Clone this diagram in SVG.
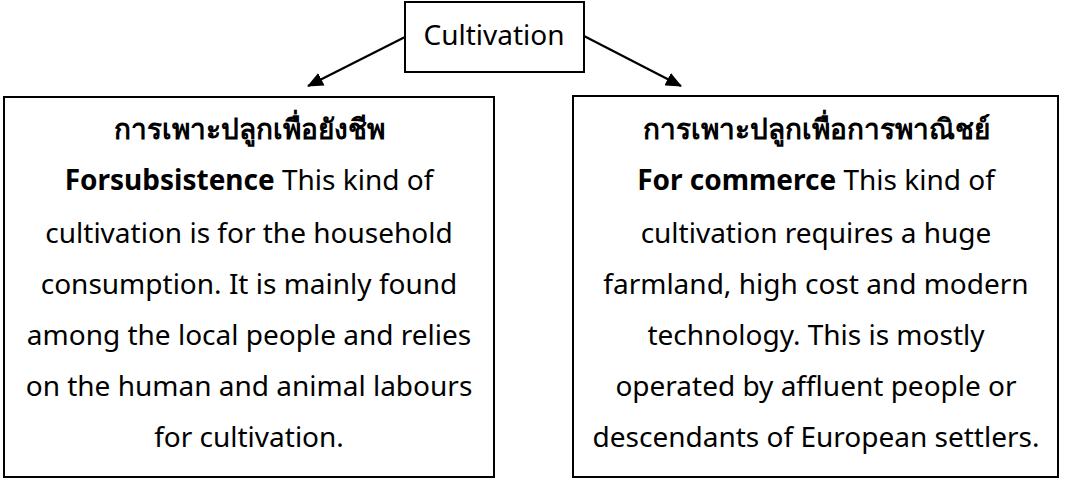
<svg xmlns="http://www.w3.org/2000/svg" width="1065" height="479" viewBox="0 0 1065 479">
<style>
.box{fill:#fff;stroke:#000;stroke-width:2}
.t{font-family:"Noto Sans","DejaVu Sans",sans-serif;font-size:28px;fill:#000;text-anchor:middle}
.b{font-weight:bold}
.conn{stroke:#000;stroke-width:2.2;fill:none}
</style>
<defs>
<marker id="ah" viewBox="0 0 16 14" refX="15" refY="7" markerWidth="16" markerHeight="14" markerUnits="userSpaceOnUse" orient="auto"><path d="M0,0 L16,7 L0,14 z" fill="#000"/></marker>
</defs>
<rect width="1065" height="479" fill="#fff"/>
<g id="connectors">
<line class="conn" x1="405" y1="37" x2="308" y2="86" marker-end="url(#ah)"/>
<line class="conn" x1="584" y1="36" x2="681" y2="86" marker-end="url(#ah)"/>
</g>
<g id="cultivation">
<rect class="box" x="405" y="2" width="179" height="70"/>
<text class="t" x="494" y="45">Cultivation</text>
</g>
<g id="subsistence">
<rect class="box" x="4" y="97" width="490" height="380"/>
<text class="t b" x="249" y="139">การเพาะปลูกเพื่อยังชีพ</text>
<text class="t" x="249" y="190"><tspan class="b">Forsubsistence</tspan> This kind of</text>
<text class="t" x="249" y="243">cultivation is for the household</text>
<text class="t" x="249" y="294">consumption. It is mainly found</text>
<text class="t" x="249" y="345">among the local people and relies</text>
<text class="t" x="249" y="396">on the human and animal labours</text>
<text class="t" x="249" y="447">for cultivation.</text>
</g>
<g id="commerce">
<rect class="box" x="573" y="96" width="485" height="381"/>
<text class="t b" x="816" y="139">การเพาะปลูกเพื่อการพาณิชย์</text>
<text class="t" x="816" y="190"><tspan class="b">For commerce</tspan> This kind of</text>
<text class="t" x="816" y="243">cultivation requires a huge</text>
<text class="t" x="816" y="294">farmland, high cost and modern</text>
<text class="t" x="816" y="345">technology. This is mostly</text>
<text class="t" x="816" y="396">operated by affluent people or</text>
<text class="t" x="816" y="447">descendants of European settlers.</text>
</g>
</svg>
